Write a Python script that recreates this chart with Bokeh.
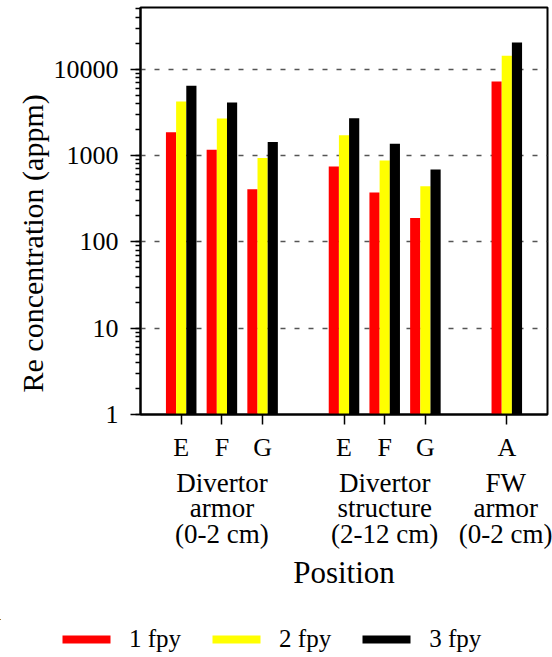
from bokeh.plotting import figure
from bokeh.layouts import column
from bokeh.models import (Range1d, LogTicker, FixedTicker, PrintfTickFormatter,
                          LinearAxis, Title, Legend, LegendItem)
from bokeh.embed import file_html
from bokeh.resources import INLINE

# Positions along the x axis (gaps separate the three regions)
positions = ["E", "F", "G", "E", "F", "G", "A"]
x_pos = [0, 1, 2, 4, 5, 6, 8]

# Region labels, centred under their positions
regions = ["Divertor\narmor\n(0-2 cm)", "Divertor\nstructure\n(2-12 cm)", "FW\narmor\n(0-2 cm)"]
region_x = [1, 5, 8]

# Re concentration (appm) after 1, 2 and 3 full-power years
fpy1 = [1870, 1165, 408, 747, 373, 189, 7240]
fpy2 = [4245, 2690, 940, 1726, 877, 442, 14350]
fpy3 = [6440, 4130, 1442, 2716, 1368, 690, 20500]

names = ["1 fpy", "2 fpy", "3 fpy"]
colors = ["#ff0000", "#ffff00", "#000000"]
offsets = [-0.25, 0.0, 0.25]
values = [fpy1, fpy2, fpy3]

y_ticks = [1, 10, 100, 1000, 10000]

FONT = "Liberation Serif"
W = 552
H_MAIN = 619
H_LEG = 657 - H_MAIN

p = figure(width=W, height=H_MAIN, y_axis_type="log",
           x_range=Range1d(-1, 9), y_range=Range1d(1, 52000),
           output_backend="svg", toolbar_location=None,
           min_border_left=140, min_border_right=5,
           min_border_top=7, min_border_bottom=H_MAIN - 414)

p.outline_line_color = "black"
p.outline_line_width = 2
p.background_fill_color = "white"
p.border_fill_color = "white"

# bars
for vals, color, off in zip(values, colors, offsets):
    xs = [x + off for x in x_pos]
    p.vbar(x=xs, top=vals, bottom=1, width=0.25, fill_color=color, line_color=None)

# grid
p.xgrid.visible = False
p.ygrid.grid_line_color = "#555555"
p.ygrid.grid_line_width = 1.5
p.ygrid.grid_line_dash = "5 9"
p.ygrid.ticker = FixedTicker(ticks=y_ticks)

# y axis
yax = p.yaxis[0]
yax.ticker = LogTicker(mantissas=[1], num_minor_ticks=10)
yax.formatter = PrintfTickFormatter(format="%d")
yax.axis_line_width = 2
yax.major_tick_line_width = 1.5
yax.minor_tick_line_width = 1.5
yax.major_tick_in = 0
yax.major_tick_out = 10
yax.minor_tick_in = 0
yax.minor_tick_out = 5
yax.major_label_text_font = FONT
yax.major_label_text_font_size = "26px"
yax.major_label_text_color = "black"
yax.major_label_standoff = 12

# y axis title, starting a little above the bottom of the frame
p.add_layout(Title(text="Re concentration (appm)", align="left", offset=22,
                   text_font=FONT, text_font_size="30px", text_font_style="normal",
                   text_color="black", standoff=4), "left")

# x axis with the position letters
xax = p.xaxis[0]
xax.ticker = FixedTicker(ticks=x_pos)
xax.major_label_overrides = {x: lab for x, lab in zip(x_pos, positions)}
xax.minor_tick_line_color = None
xax.axis_line_width = 2
xax.major_tick_line_width = 1.5
xax.major_tick_in = 0
xax.major_tick_out = 10
xax.major_label_text_font = FONT
xax.major_label_text_font_size = "26px"
xax.major_label_text_color = "black"
xax.major_label_standoff = 8

# second row: region names, plus the axis title
rax = LinearAxis(ticker=FixedTicker(ticks=region_x),
                 major_label_overrides={x: t for x, t in zip(region_x, regions)})
rax.axis_line_color = None
rax.major_tick_line_color = None
rax.minor_tick_line_color = None
rax.major_tick_in = 0
rax.major_tick_out = 0
rax.major_label_standoff = 3
rax.major_label_text_font = FONT
rax.major_label_text_font_size = "27px"
rax.major_label_text_color = "black"
rax.major_label_text_line_height = 0.85
rax.axis_label = "Position"
rax.axis_label_text_font = FONT
rax.axis_label_text_font_style = "normal"
rax.axis_label_text_font_size = "31px"
rax.axis_label_text_color = "black"
rax.axis_label_standoff = 3
p.add_layout(rax, "below")

# legend strip underneath the chart; its bars have zero height, sit outside
# the strip's ranges and only lend their colours to the legend entries
lg = figure(width=W, height=H_LEG, x_range=Range1d(100, 100 + W), y_range=Range1d(0, H_LEG),
            output_backend="svg", toolbar_location=None,
            x_axis_location=None, y_axis_location=None,
            min_border=0, outline_line_color=None)
lg.frame_align = False
lg.grid.visible = False
items = []
for name, vals, color in zip(names, values, colors):
    r = lg.vbar(x=x_pos, top=vals, bottom=vals, width=0.25,
                fill_color=color, line_color=None)
    items.append(LegendItem(label=name, renderers=[r]))
legend = Legend(items=items, orientation="horizontal", location=(56, 4),
                glyph_width=60, glyph_height=10, label_standoff=13, spacing=25,
                padding=0, margin=0, border_line_color=None,
                background_fill_alpha=0,
                label_text_font=FONT, label_text_font_size="25px",
                label_text_color="black")
lg.add_layout(legend, "center")

open("out.html", "w").write(file_html(column(p, lg, spacing=0), INLINE))
